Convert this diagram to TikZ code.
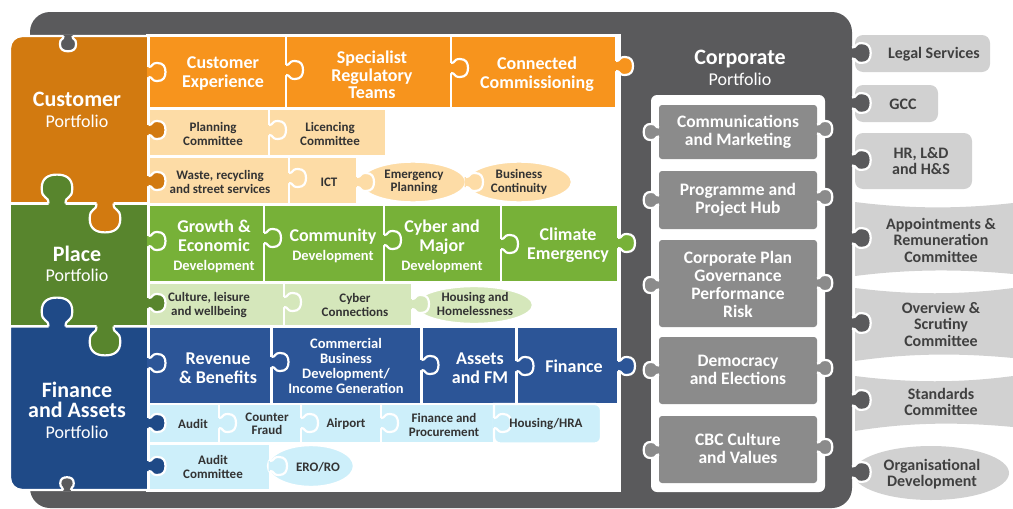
\documentclass[tikz,border=0pt]{standalone}
\usepackage{fontspec}
\setmainfont{Carlito}
\definecolor{frame}{HTML}{5A5A5C}
\definecolor{custP}{HTML}{D27A10}
\definecolor{custS}{HTML}{F7941D}
\definecolor{peach}{HTML}{FDDCA6}
\definecolor{placeP}{HTML}{58852D}
\definecolor{placeS}{HTML}{77B138}
\definecolor{lgreen}{HTML}{D5E7BB}
\definecolor{finP}{HTML}{1F4A87}
\definecolor{finS}{HTML}{2C5597}
\definecolor{lblue}{HTML}{CDEFFA}
\definecolor{midgrey}{HTML}{8B8B8B}
\definecolor{lgrey}{HTML}{D1D1D1}
\definecolor{txtdark}{HTML}{333333}
\definecolor{rtxt}{HTML}{404040}
\newcommand\pfl{{\fontsize{18}{18}\selectfont\mdseries Portfolio}}
\newcommand\devt{{\fontsize{14.5}{15}\selectfont Development}}
\newcommand\knobcurve{(0,-5) .. controls (5,-5) and (2,-9) .. (9,-9) .. controls (15,-9) and (17,-5) .. (17,0) .. controls (17,5) and (15,9) .. (9,9) .. controls (2,9) and (5,5) .. (0,5)}
\newcommand\knob[5]{%
 \begin{scope}[shift={(#1,#2)},rotate=#3,scale=#5]
  \fill[#4] (-1.3,-5) -- \knobcurve -- (-1.3,5) -- cycle;
  \draw[white,line width=2.2pt] \knobcurve;
 \end{scope}}
\tikzset{
 piece/.style={draw=white, line width=2.4pt},
 wt/.style={text=white, align=center, font=\fontsize{18}{19}\selectfont\bfseries, inner sep=0pt},
 ct/.style={text=white, align=center, font=\fontsize{17.5}{18}\selectfont\bfseries, inner sep=0pt},
 dt/.style={text=txtdark, align=center, font=\fontsize{13}{13.5}\selectfont\bfseries, inner sep=0pt},
 rt/.style={text=rtxt, align=center, font=\fontsize{16}{16.5}\selectfont\bfseries, inner sep=0pt},
 pt/.style={text=white, align=center, font=\fontsize{22}{20.5}\selectfont\bfseries, inner sep=0pt},
}
\begin{document}
\begin{tikzpicture}[x=1pt,y=-1pt]
\useasboundingbox (0,0) rectangle (1013,509);
% frame
\fill[frame, rounded corners=20pt] (30,12) rectangle (852,508);
\fill[white] (146,34) rectangle (621,492);
% right side pieces
\fill[lgrey, rounded corners=8pt] (855,35) rectangle (990,72);
\fill[lgrey, rounded corners=8pt] (855,85) rectangle (938,122);
\fill[lgrey, rounded corners=8pt] (855,133) rectangle (972,189);
\fill[lgrey] (855,202) .. controls (910,209) and (960,209) .. (1013,203) -- (1013,274) .. controls (960,269) and (910,269) .. (855,276) -- cycle;
\fill[lgrey] (855,288) .. controls (910,295) and (960,295) .. (1013,288) -- (1013,358) .. controls (960,353) and (910,353) .. (855,361) -- cycle;
\fill[lgrey] (855,376) .. controls (910,383) and (960,383) .. (1013,376) -- (1013,427) .. controls (960,422) and (910,422) .. (855,431) -- cycle;
\fill[lgrey] (931,473) ellipse (78 and 27);
\knob{852}{53}{0}{frame}{1.1}
\knob{852}{103}{0}{frame}{1.1}
\knob{852}{160}{0}{frame}{1.1}
\knob{852}{238}{0}{frame}{1.1}
\knob{852}{323}{0}{frame}{1.1}
\knob{852}{400}{0}{frame}{1.1}
\knob{852}{472}{0}{frame}{1.1}
% corporate panel
\fill[white, rounded corners=6pt] (651,95) rectangle (825,492);
\fill[midgrey, rounded corners=3pt] (659,105) rectangle (817,159);
\fill[midgrey, rounded corners=3pt] (659,171) rectangle (817,229);
\fill[midgrey, rounded corners=3pt] (659,240) rectangle (817,327);
\fill[midgrey, rounded corners=3pt] (659,337) rectangle (817,404);
\fill[midgrey, rounded corners=3pt] (659,416) rectangle (817,483);
\knob{659}{132}{180}{midgrey}{0.9}
\knob{817}{129}{0}{midgrey}{0.9}
\knob{659}{200}{180}{midgrey}{0.9}
\knob{817}{197}{0}{midgrey}{0.9}
\knob{659}{285}{180}{midgrey}{0.9}
\knob{817}{283}{0}{midgrey}{0.9}
\knob{659}{370}{180}{midgrey}{0.9}
\knob{817}{368}{0}{midgrey}{0.9}
\knob{659}{450}{180}{midgrey}{0.9}
\knob{817}{447}{0}{midgrey}{0.9}
% portfolio pieces
\path[piece, fill=custP] (148.5,203.5) -- (10,203.5) -- (10,48) arc[start angle=180, end angle=270, radius=12] -- (148.5,36) -- cycle;
\path[piece, fill=placeP] (10,203.5) rectangle (148.5,326.5);
\path[piece, fill=finP] (148.5,326.5) -- (10,326.5) -- (10,478) arc[start angle=180, end angle=90, radius=12] -- (148.5,490) -- cycle;
% orange row
\path[piece, fill=custS] (148.5,36) rectangle (286,108.5);
\path[piece, fill=custS] (286,36) rectangle (451,108.5);
\path[piece, fill=custS] (451,36) rectangle (616,108.5);
% peach rows
\path[piece, fill=peach] (148.5,108.5) rectangle (269,156.5);
\path[piece, fill=peach] (269,108.5) rectangle (386,156.5);
\path[piece, fill=peach] (148.5,156.5) rectangle (289,204.5);
\path[piece, fill=peach] (289,156.5) rectangle (357,204.5);
\path[piece, fill=peach] (413,182) ellipse (53 and 20.5);
\path[piece, fill=peach] (519,182) ellipse (53 and 20.5);
% green rows
\path[piece, fill=placeS] (148.5,204.5) rectangle (264,282.5);
\path[piece, fill=placeS] (264,204.5) rectangle (384,282.5);
\path[piece, fill=placeS] (384,204.5) rectangle (501,282.5);
\path[piece, fill=placeS] (501,204.5) rectangle (618,282.5);
\path[piece, fill=lgreen] (148.5,282.5) rectangle (284,326.5);
\path[piece, fill=lgreen] (284,282.5) rectangle (412,326.5);
\path[piece, fill=lgreen] (474,305) ellipse (59 and 19);
% blue rows
\path[piece, fill=finS] (148.5,326.5) rectangle (271.5,404);
\path[piece, fill=finS] (271.5,326.5) rectangle (421.5,404);
\path[piece, fill=finS] (421.5,326.5) rectangle (516.5,404);
\path[piece, fill=finS] (516.5,326.5) rectangle (618,404);
\path[piece, fill=lblue] (148.5,404) rectangle (219,443.5);
\path[piece, fill=lblue] (219,404) rectangle (301,443.5);
\path[piece, fill=lblue] (301,404) rectangle (381,443.5);
\path[piece, fill=lblue] (381,404) rectangle (494,443.5);
\path[piece, fill=lblue, rounded corners=6pt] (494,404) -- (601,404) -- (601,443.5) -- (494,443.5) [sharp corners] -- cycle;
\path[piece, fill=lblue] (148.5,443.5) rectangle (270,490);
\path[piece, fill=lblue] (311,466) ellipse (43 and 21);
% portfolio knobs
\knob{68}{36}{-90}{frame}{0.9}
\knob{57}{203.5}{90}{placeP}{1.7}
\knob{105}{203.5}{-90}{custP}{1.7}
\knob{57}{326.5}{90}{finP}{1.7}
\knob{105}{326.5}{-90}{placeP}{1.7}
\knob{67}{490}{90}{frame}{0.75}
% row knobs
\knob{148.5}{72}{0}{custS}{1}
\knob{148.5}{130}{0}{custP}{1}
\knob{148.5}{181}{0}{custP}{1}
\knob{148.5}{241}{0}{placeS}{1}
\knob{148.5}{303}{0}{placeP}{1}
\knob{148.5}{363}{0}{finS}{1}
\knob{148.5}{423}{0}{finP}{1}
\knob{148.5}{466}{0}{finP}{1}
\knob{286}{70}{0}{custS}{1}
\knob{451}{68}{0}{custS}{1}
\knob{616}{66}{0}{custS}{1}
\knob{269}{130}{0}{peach}{1}
\knob{289}{178}{0}{peach}{1}
\knob{357}{182}{0}{peach}{1}
\knob{466}{182}{0}{peach}{1}
\knob{264}{238}{0}{placeS}{1}
\knob{384}{240}{0}{placeS}{1}
\knob{501}{244}{0}{placeS}{1}
\knob{618}{243}{0}{placeS}{1}
\knob{284}{302}{0}{lgreen}{1}
\knob{412}{304}{0}{lgreen}{1}
\knob{271.5}{362}{0}{finS}{1}
\knob{421.5}{365}{0}{finS}{1}
\knob{516.5}{366}{0}{finS}{1}
\knob{618}{366}{0}{finS}{1}
\knob{219}{423}{0}{lblue}{1}
\knob{301}{423}{0}{lblue}{1}
\knob{381}{423}{0}{lblue}{1}
\knob{494}{423}{0}{lblue}{1}
\knob{270}{466}{0}{lblue}{1}
% texts
\node[pt] (tcust) at (77,110) {Customer\\\pfl};
\node[pt] (tplace) at (77,264) {Place\\\pfl};
\node[pt] (tfin) at (77,410) {Finance\\and Assets\\\pfl};
\node[pt] (corp) at (740,68) {Corporate\\\pfl};
\node[wt] (cexp) at (223,74) {Customer\\Experience};
\node[wt, font=\fontsize{18}{17.5}\selectfont\bfseries] (spec) at (372,75) {Specialist\\Regulatory\\Teams};
\node[wt] (conn) at (537,74) {Connected\\Commissioning};
\node[dt] (plan) at (213,134) {Planning\\Committee};
\node[dt] (lic) at (330,134) {Licencing\\Committee};
\node[dt] (waste) at (220,182) {Waste, recycling\\and street services};
\node[dt] (ict) at (329,182) {ICT};
\node[dt] (emer) at (414,182) {Emergency\\Planning};
\node[dt] (bus) at (519,182) {Business\\Continuity};
\node[wt] (grow) at (214,246) {Growth \&\\Economic\\\devt};
\node[wt] (comm) at (333,246) {Community\\\devt};
\node[wt] (cyber) at (442,246) {Cyber and\\Major\\\devt};
\node[wt] (clim) at (568,245) {Climate\\Emergency};
\node[dt] (cult) at (209,305) {Culture, leisure\\and wellbeing};
\node[dt] (cybc) at (355,305) {Cyber\\Connections};
\node[dt] (hous) at (475,304) {Housing and\\Homelessness};
\node[wt] (rev) at (218,368) {Revenue\\\& Benefits};
\node[wt, font=\fontsize{14.5}{14.7}\selectfont\bfseries] (cbd) at (346,366) {Commercial\\Business\\Development/\\Income Generation};
\node[wt] (assets) at (480,368) {Assets\\and FM};
\node[wt] (finance) at (574,366) {Finance};
\node[dt] (audit) at (193,424) {Audit};
\node[dt] (cfraud) at (267,424) {Counter\\Fraud};
\node[dt] (airport) at (346,424) {Airport};
\node[dt] (fproc) at (444,425) {Finance and\\Procurement};
\node[dt] (hhra) at (546,424) {Housing/HRA};
\node[dt] (acomm) at (213,467) {Audit\\Committee};
\node[dt] (ero) at (318,467) {ERO/RO};
\node[ct] (cm) at (738,132) {Communications\\and Marketing};
\node[ct] (pph) at (738,200) {Programme and\\Project Hub};
\node[ct] (cpg) at (738,284) {Corporate Plan\\Governance\\Performance\\Risk};
\node[ct] (de) at (738,370) {Democracy\\and Elections};
\node[ct] (cbc) at (738,448) {CBC Culture\\and Values};
\node[rt] (legal) at (934,54) {Legal Services};
\node[rt] (gcc) at (903,104) {GCC};
\node[rt] (hr) at (921,161) {HR, L\&D\\and H\&S};
\node[rt] (app) at (941,240) {Appointments \&\\Remuneration\\Committee};
\node[rt] (ovs) at (941,324) {Overview \&\\Scrutiny\\Committee};
\node[rt] (std) at (941,402) {Standards\\Committee};
\node[rt] (org) at (932,474) {Organisational\\Development};
\end{tikzpicture}
\end{document}
